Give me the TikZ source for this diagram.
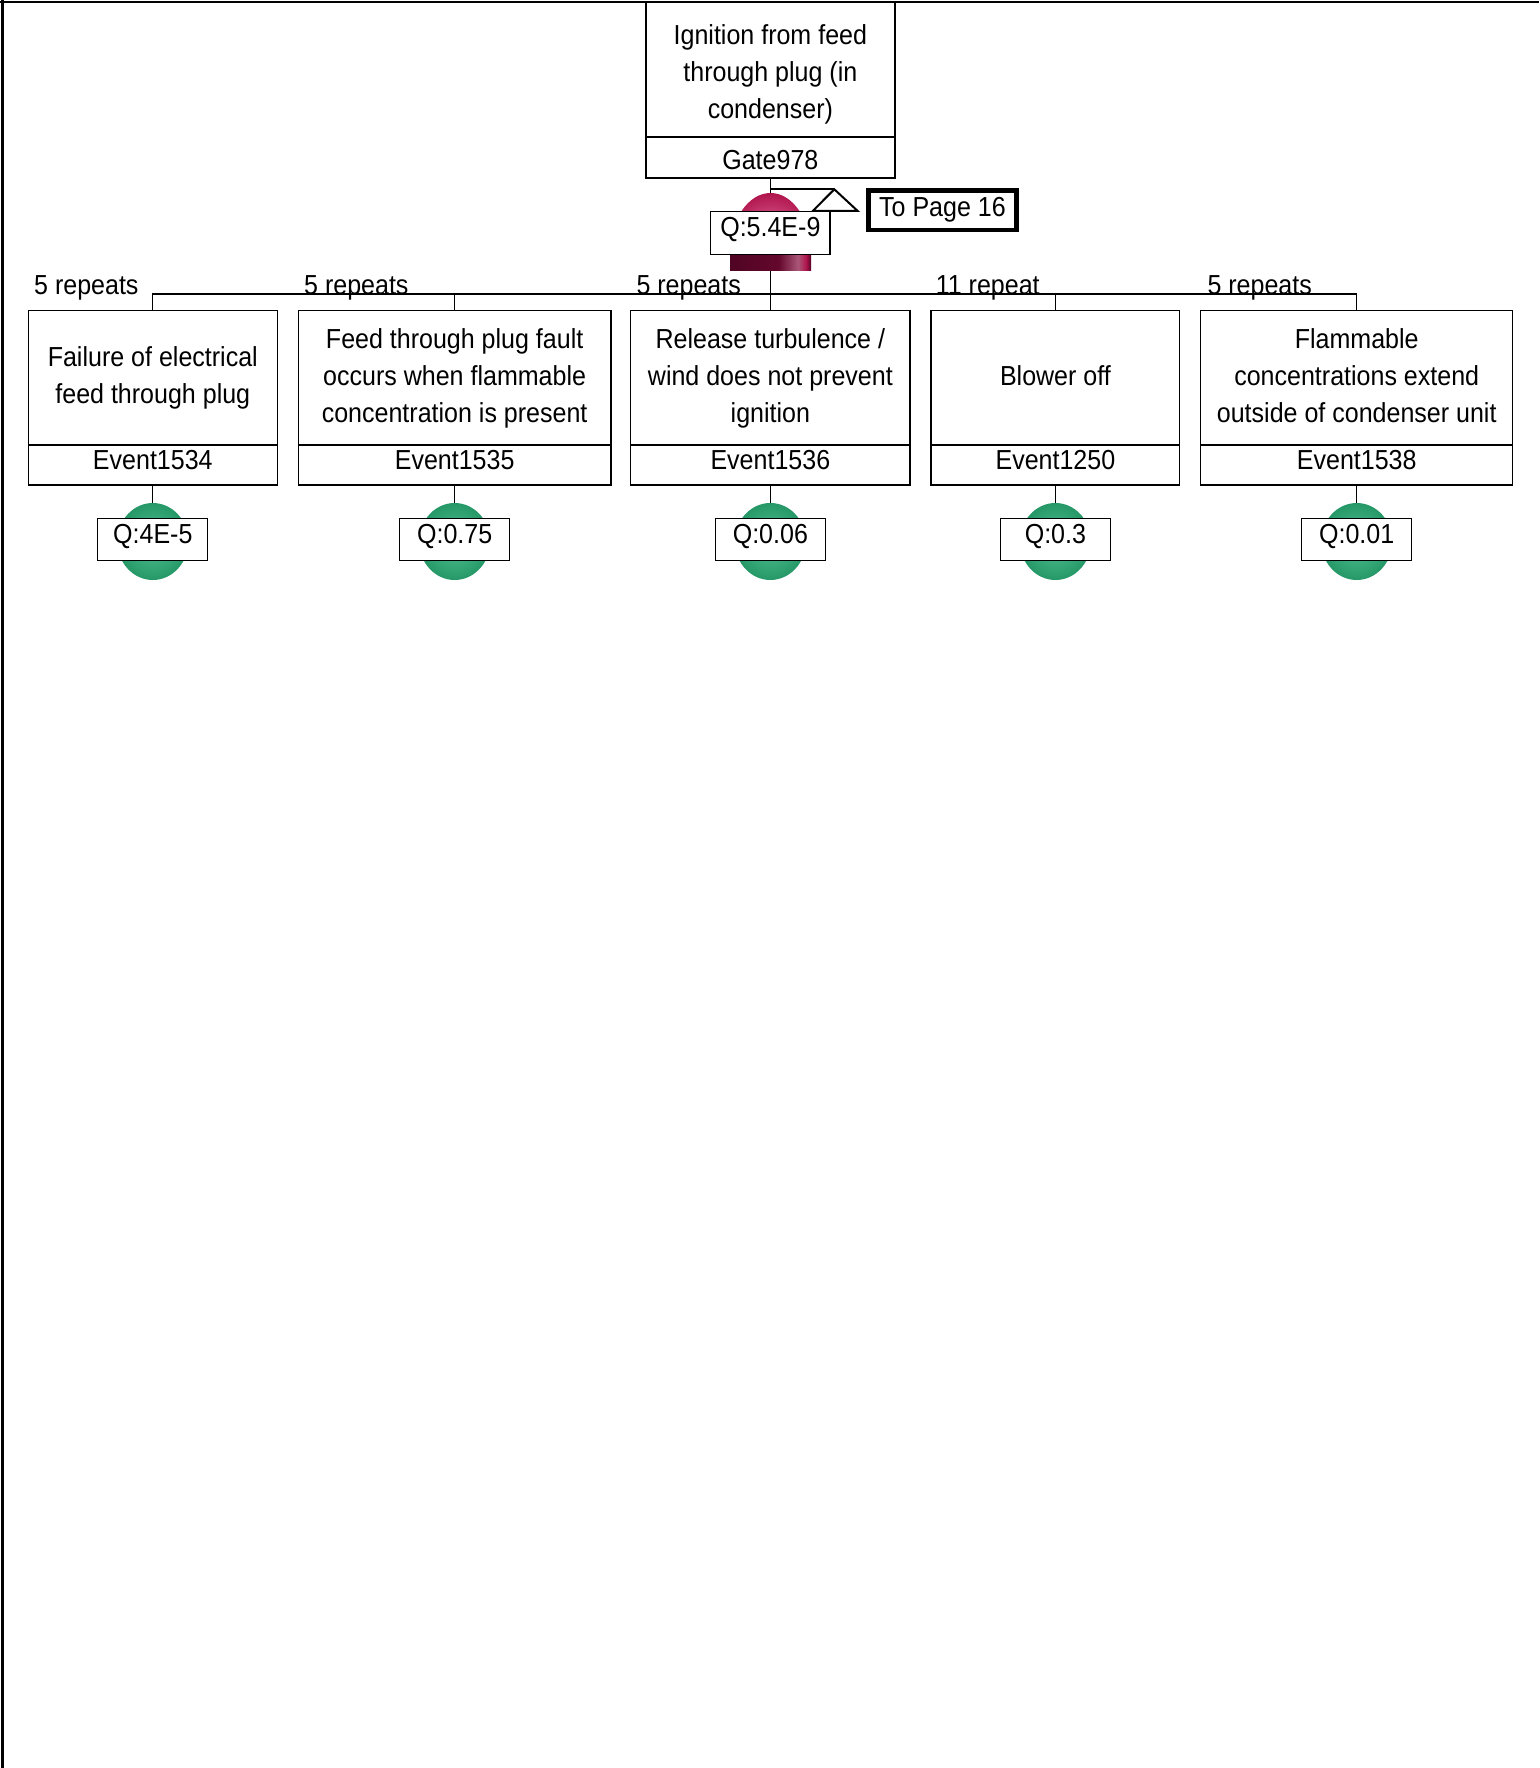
\documentclass[tikz,border=0pt]{standalone}
\usepackage{fontspec}
\setmainfont{Liberation Sans}[FakeStretch=0.91]
\usetikzlibrary{shapes.geometric,shadings,backgrounds}

\definecolor{domered}{RGB}{176,20,76}
\definecolor{domepink}{RGB}{212,86,136}
\definecolor{domedark}{RGB}{80,4,36}
\definecolor{domeshine}{RGB}{170,86,120}
\definecolor{ballgreen}{RGB}{38,152,104}
\definecolor{balllight}{RGB}{84,194,146}

% dark band under the AND dome, with a light streak near its right end
\pgfdeclarehorizontalshading{domeband}{100bp}{color(0bp)=(domedark); color(25bp)=(domedark);
  color(55bp)=(domedark!80!domered); color(67bp)=(domeshine); color(72bp)=(domered);
  color(75bp)=(domedark); color(100bp)=(domedark)}

% centred lines whose first baseline is the box baseline
\newcommand{\ftlines}[1]{\begin{tabular}[t]{@{}c@{}}#1\end{tabular}}

\begin{document}
\begin{tikzpicture}[x=1pt,y=-1pt,
  font=\fontsize{27.5}{36.8}\selectfont,
  box/.style={draw, rectangle, line width=1.3pt, inner sep=0pt, fill=white},
  descbox/.style={box, minimum height=134.3pt},
  idbox/.style={box, minimum height=40pt, text height=18pt, text depth=9pt},
  qbox/.style={box, minimum width=110pt, minimum height=42.5pt, text height=18pt, text depth=10.5pt},
  ball/.style={ellipse, minimum width=71pt, minimum height=77pt, inner sep=0pt,
               inner color=balllight, outer color=ballgreen},
  wire/.style={line width=1.3pt},
  bus/.style={line width=2.6pt},
  rep/.style={anchor=base west, inner sep=0pt},
]
\useasboundingbox (0,0) rectangle (1539,1768);

% page frame (top and left edges)
\draw[line width=2.6pt] (2.3,0) -- (2.3,1768);
\draw[line width=2.2pt] (0,2) -- (1539,2);

% top gate
\node[descbox, line width=2pt, minimum width=249.3pt, minimum height=134.7pt, text height=35.8pt]
  (g) at (770.35,69.35) {\ftlines{Ignition from feed\\through plug (in\\condenser)}};
\node[box, line width=2pt, minimum width=249.3pt, minimum height=41pt, text height=24pt, text depth=0pt]
  (gid) at (770.35,157.2) {Gate978};

\coordinate (j) at (770.35,294);

% basic events
\node[descbox, minimum width=249pt]   (e1) at (152.8,377.85)  {\ftlines{Failure of electrical\\feed through plug}};
\node[idbox,   minimum width=249pt]   (e1id) at (152.8,465)   {Event1534};
\node[descbox, minimum width=312.7pt] (e2) at (454.65,377.85) {\ftlines{Feed through plug fault\\occurs when flammable\\concentration is present}};
\node[idbox,   minimum width=312.7pt] (e2id) at (454.65,465)  {Event1535};
\node[descbox, minimum width=279.3pt] (e3) at (770.35,377.85) {\ftlines{Release turbulence /\\wind does not prevent\\ignition}};
\node[idbox,   minimum width=279.3pt] (e3id) at (770.35,465)  {Event1536};
\node[descbox, minimum width=248.6pt] (e4) at (1055.4,377.85) {\ftlines{Blower off}};
\node[idbox,   minimum width=248.6pt] (e4id) at (1055.4,465)  {Event1250};
\node[descbox, minimum width=312pt]   (e5) at (1356.7,377.85) {\ftlines{Flammable\\concentrations extend\\outside of condenser unit}};
\node[idbox,   minimum width=312pt]   (e5id) at (1356.7,465)  {Event1538};

% repeat counts
\node[rep] (r1) at (34,294.5)    {5 repeats};
\node[rep] (r2) at (304,294.5)   {5 repeats};
\node[rep] (r3) at (636.3,294.5) {5 repeats};
\node[rep] (r4) at (935.6,294.5) {11 repeat};
\node[rep] (r5) at (1207.3,294.5) {5 repeats};

% transfer symbol
\coordinate (tapex) at (834.3,189.3);
\draw[line width=2pt] (gid.south |- tapex) -- (tapex);
\draw[line width=2pt, fill=white, line join=miter] (tapex) -- (857.7,211) -- (812.7,211) -- cycle;
\node[draw, line width=4.7pt, minimum width=148.5pt, minimum height=39.8pt, inner sep=0pt,
      text height=18pt, text depth=4.6pt] (tp) at (942.45,210.1) {To Page 16};

% AND gate dome
\shade[inner color=domepink, outer color=domered]
  (730,253) arc[start angle=180, end angle=360, x radius=40.5, y radius=60] -- cycle;
\shade[shading=domeband] (730,253) rectangle (811,271);
\node[qbox, minimum width=119.3pt, minimum height=42.6pt] (gq) at (770.35,233) {Q:5.4E-9};

% event probabilities
\node[ball] (b1) at (152.8,541.5) {};
\node[qbox] (q1) at (152.8,539.55) {Q:4E-5};
\node[ball] (b2) at (454.65,541.5) {};
\node[qbox] (q2) at (454.65,539.55) {Q:0.75};
\node[ball] (b3) at (770.35,541.5) {};
\node[qbox] (q3) at (770.35,539.55) {Q:0.06};
\node[ball] (b4) at (1055.4,541.5) {};
\node[qbox] (q4) at (1055.4,539.55) {Q:0.3};
\node[ball] (b5) at (1356.7,541.5) {};
\node[qbox] (q5) at (1356.7,539.55) {Q:0.01};

% connectors
\begin{scope}[on background layer]
  \draw[wire] (gid.south) -- (j);
  \draw[wire] (j) -| (e1.north);
  \draw[wire] (j) -| (e2.north);
  \draw[wire] (j) -- (e3.north);
  \draw[wire] (j) -| (e4.north);
  \draw[wire] (j) -| (e5.north);
  \draw[bus] (e2.north |- j) -- (e4.north |- j);
  \draw[wire] (e1id.south) -- (b1.center);
  \draw[wire] (e2id.south) -- (b2.center);
  \draw[wire] (e3id.south) -- (b3.center);
  \draw[wire] (e4id.south) -- (b4.center);
  \draw[wire] (e5id.south) -- (b5.center);
\end{scope}
\end{tikzpicture}
\end{document}
